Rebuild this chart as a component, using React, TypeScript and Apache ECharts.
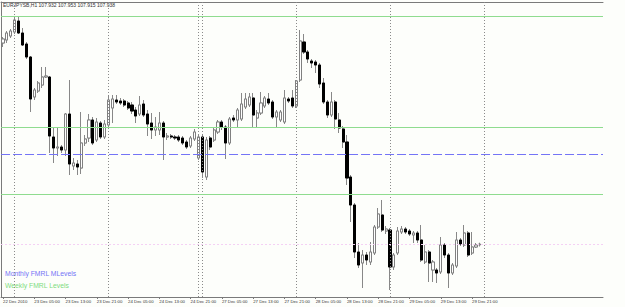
import React, { useEffect, useRef } from "react";
import * as echarts from "echarts";

const symbolLabel = "EURJPYSB,H1";
const lastQuote = [107.932, 107.953, 107.915, 107.938]; // O H L C of the last bar

const opens = [
  109.95, 109.98, 110.02, 110.06, 110.17, 110.05, 109.94, 109.81, 109.41, 109.47,
  109.53, 109.61, 109.61, 109.01, 108.90, 108.91, 108.88, 109.24, 108.72, 108.74,
  108.70, 108.95, 109.00, 109.18, 108.98, 109.15, 109.01, 109.13, 109.30, 109.38,
  109.37, 109.37, 109.35, 109.33, 109.28, 109.24, 109.34, 109.24, 109.15, 109.08,
  109.08, 109.15, 109.01, 109.02, 109.01, 109.01, 109.00, 108.96, 108.92, 108.99,
  108.80, 109.01, 108.61, 109.00, 108.98, 109.06, 109.16, 109.11, 108.95, 109.20,
  109.18, 109.19, 109.31, 109.33, 109.40, 109.20, 109.25, 109.32, 109.39, 109.36,
  109.21, 109.18, 109.16, 109.39, 109.40, 109.32, 109.58, 109.96, 109.86, 109.77,
  109.76, 109.73, 109.55, 109.36, 109.23, 109.36, 109.18, 109.09, 108.96, 108.61,
  108.33, 107.86, 107.75, 107.83, 107.76, 107.85, 108.11, 108.23, 108.07, 108.08,
  107.71, 107.85, 108.06, 108.09, 108.07, 108.03, 108.05, 107.98, 107.76, 107.86,
  107.68, 107.68, 107.66, 107.93, 107.83, 107.65, 107.72, 107.98, 107.93, 108.05,
  107.85, 107.91, 107.932,
];
const closes = [
  109.99, 110.05, 110.07, 110.18, 110.05, 109.93, 109.81, 109.39, 109.48, 109.55,
  109.61, 109.62, 109.02, 108.90, 108.91, 108.88, 109.24, 108.74, 108.75, 108.71,
  108.95, 108.99, 109.18, 108.95, 109.16, 109.01, 109.14, 109.38, 109.39, 109.36,
  109.35, 109.33, 109.30, 109.27, 109.22, 109.33, 109.23, 109.14, 109.08, 109.11,
  109.15, 109.01, 109.02, 109.01, 109.00, 108.98, 108.95, 108.91, 109.00, 109.06,
  109.01, 108.66, 108.98, 108.91, 109.08, 109.16, 109.11, 108.95, 109.19, 109.18,
  109.28, 109.34, 109.39, 109.41, 109.23, 109.25, 109.35, 109.40, 109.35, 109.21,
  109.26, 109.26, 109.40, 109.37, 109.32, 109.57, 109.97, 109.86, 109.79, 109.75,
  109.73, 109.54, 109.36, 109.23, 109.36, 109.19, 109.10, 108.96, 108.60, 108.33,
  107.86, 107.73, 107.83, 107.78, 107.86, 108.11, 108.24, 108.08, 108.09, 107.71,
  107.83, 108.07, 108.09, 108.06, 108.04, 108.05, 107.98, 107.78, 107.86, 107.75,
  107.76, 107.65, 107.93, 107.83, 107.65, 107.73, 107.98, 107.94, 108.05, 107.83,
  107.91, 107.93, 107.938,
];
const lows = [
  109.91, 109.95, 110.00, 110.04, 110.04, 109.92, 109.79, 109.26, 109.38, 109.45,
  109.50, 109.60, 108.85, 108.75, 108.82, 108.85, 108.82, 108.63, 108.68, 108.63,
  108.64, 108.92, 108.96, 108.93, 108.96, 108.99, 108.99, 109.10, 109.15, 109.34,
  109.33, 109.31, 109.28, 109.24, 109.15, 109.22, 109.21, 109.02, 108.99, 109.02,
  109.03, 108.78, 108.98, 108.99, 108.98, 108.96, 108.93, 108.89, 108.90, 108.97,
  108.78, 108.60, 108.58, 108.88, 108.96, 109.04, 109.08, 108.79, 108.93, 109.16,
  109.10, 109.17, 109.29, 109.31, 109.11, 109.11, 109.23, 109.30, 109.33, 109.19,
  109.10, 109.16, 109.14, 109.35, 109.30, 109.30, 109.56, 109.84, 109.75, 109.70,
  109.65, 109.50, 109.34, 109.20, 109.21, 109.09, 109.05, 108.90, 108.53, 108.16,
  107.80, 107.70, 107.50, 107.73, 107.73, 107.83, 108.09, 108.06, 108.04, 107.48,
  107.68, 107.83, 108.04, 108.04, 108.02, 107.95, 107.95, 107.76, 107.74, 107.56,
  107.56, 107.55, 107.64, 107.80, 107.50, 107.63, 107.70, 107.92, 107.91, 107.81,
  107.83, 107.90, 107.915,
];
const highs = [
  110.01, 110.07, 110.09, 110.21, 110.22, 110.10, 109.96, 109.82, 109.50, 109.57,
  109.71, 109.71, 109.62, 109.11, 109.10, 108.93, 109.25, 109.58, 108.80, 108.78,
  109.26, 109.03, 109.24, 109.21, 109.20, 109.17, 109.18, 109.43, 109.43, 109.43,
  109.40, 109.39, 109.37, 109.36, 109.31, 109.42, 109.38, 109.28, 109.25, 109.21,
  109.26, 109.17, 109.05, 109.04, 109.03, 109.03, 109.02, 108.98, 109.02, 109.09,
  109.04, 109.03, 109.01, 109.02, 109.11, 109.18, 109.18, 109.13, 109.21, 109.23,
  109.30, 109.45, 109.45, 109.45, 109.45, 109.28, 109.46, 109.42, 109.45, 109.38,
  109.28, 109.28, 109.48, 109.41, 109.48, 109.58, 110.08, 110.04, 109.88, 109.79,
  109.78, 109.75, 109.60, 109.38, 109.46, 109.38, 109.25, 109.12, 109.03, 108.63,
  108.35, 107.95, 107.88, 107.86, 107.96, 108.13, 108.30, 108.38, 108.12, 108.10,
  107.85, 108.11, 108.12, 108.11, 108.09, 108.07, 108.07, 108.13, 107.93, 107.88,
  107.78, 107.70, 108.01, 107.95, 107.85, 107.75, 108.06, 108.00, 108.13, 108.07,
  108.06, 107.95, 107.953,
];

// Trading sessions (day of December 2010, first hour, last hour)
const sessionDays = [22, 23, 24, 26, 27, 28, 29, 30, 31];
const sessionFrom = [21, 0, 0, 23, 0, 0, 0, 0, 0];
const sessionTo = [23, 23, 22, 23, 23, 23, 23, 23, 6];
// Period separators are drawn for sessions up to and including 30 Dec
const lastSeparatorDay = 30;

const weeklyLevels = [110.22, 109.11, 108.44];
const monthlyLevels = [108.84];
const bidPrice = 107.938;
const priceMin = 107.41;
const priceMax = 110.36;

const legendMonthly = "Monthly FMRL MLevels";
const legendWeekly = "Weekly FMRL Levels";

const categories: string[] = [];
const separators: number[] = [];
sessionDays.forEach((d, s) => {
  if (s > 0 && d <= lastSeparatorDay) separators.push(categories.length);
  for (let h = sessionFrom[s]; h <= sessionTo[s]; h++) {
    categories.push(`${d} Dec ${String(h).padStart(2, "0")}:00`);
  }
});

const FONT = "'Liberation Sans', Arial, sans-serif";

export default function App() {
  const ref = useRef<HTMLDivElement>(null);
  useEffect(() => {
    if (!ref.current) return;
    const chart = echarts.init(ref.current, null, { renderer: "svg" });
    const n = opens.length;
    const wickData = opens.map((o, i) => [o, closes[i], lows[i], highs[i]]);
    const bodyData = opens.map((o, i) => [o, closes[i], Math.min(o, closes[i]), Math.max(o, closes[i])]);
    const labelInterval = (index: number) => index % 8 === 0 && index < n;
    const header = `${symbolLabel} ${lastQuote.map((v) => v.toFixed(3)).join(" ")}`;

    chart.setOption({
      animation: false,
      backgroundColor: "#fdfefb",
      grid: { left: 1, right: 22, top: 2, bottom: 10, containLabel: false },
      xAxis: [
        {
          type: "category",
          data: categories,
          boundaryGap: true,
          axisLine: { show: true, lineStyle: { color: "#7a7a7a", width: 1 } },
          axisTick: { show: true, alignWithLabel: true, interval: labelInterval, length: 2, lineStyle: { color: "#7a7a7a" } },
          axisLabel: {
            interval: labelInterval,
            formatter: (v: string, i: number) => (i === 0 ? "22 Dec 2010" : v),
            fontSize: 4.3,
            color: "#333",
            margin: 2,
            align: "left",
            fontFamily: FONT,
          },
          splitLine: { show: false },
        },
        {
          type: "category",
          position: "top",
          data: categories,
          axisLine: { show: true, lineStyle: { color: "#7a7a7a", width: 1 } },
          axisTick: { show: false },
          axisLabel: { show: false },
        },
      ],
      yAxis: {
        type: "value",
        min: priceMin,
        max: priceMax,
        axisLine: { show: true, lineStyle: { color: "#7a7a7a" } },
        axisTick: { show: false },
        axisLabel: { show: false },
        splitLine: { show: false },
      },
      graphic: [
        { type: "text", left: 3, top: 2, style: { text: header, fontSize: 5, fill: "#333", fontFamily: FONT } },
        { type: "text", left: 5, top: 270, style: { text: legendMonthly, fontSize: 6.8, fill: "#7474f6", fontFamily: FONT } },
        { type: "text", left: 5, top: 282, style: { text: legendWeekly, fontSize: 6.8, fill: "#80dc80", fontFamily: FONT } },
      ],
      series: [
        {
          type: "candlestick",
          name: "wicks",
          data: wickData,
          barWidth: 2.6,
          silent: true,
          itemStyle: { color: "#888", color0: "#888", borderColor: "#888", borderColor0: "#888", borderColorDoji: "#888", borderWidth: 1 },
          markLine: {
            silent: true,
            symbol: "none",
            label: { show: false },
            lineStyle: { color: "#8a8a8a", type: [1, 2], width: 1 },
            data: separators.map((i) => ({ xAxis: categories[i] })),
          },
          z: 2,
        },
        {
          type: "candlestick",
          name: "bodies",
          data: bodyData,
          barWidth: 2.6,
          silent: true,
          itemStyle: { color: "#ffffff", color0: "#000000", borderColor: "#808080", borderColor0: "#000000", borderColorDoji: "#808080", borderWidth: 1 },
          markLine: {
            silent: true,
            symbol: "none",
            label: { show: false },
            data: [
              ...weeklyLevels.map((v) => ({ yAxis: v, lineStyle: { color: "#8fdc8f", type: "solid", width: 1 } })),
              ...monthlyLevels.map((v) => ({ yAxis: v, lineStyle: { color: "#7474f6", type: [9, 3], width: 1 } })),
              { yAxis: bidPrice, lineStyle: { color: "#f4d0f4", type: [2, 2], width: 1 } },
            ],
          },
          z: 3,
        },
      ],
    });
    return () => chart.dispose();
  }, []);
  return <div ref={ref} style={{ position: "fixed", left: 0, top: 0, width: 625, height: 307 }} />;
}
